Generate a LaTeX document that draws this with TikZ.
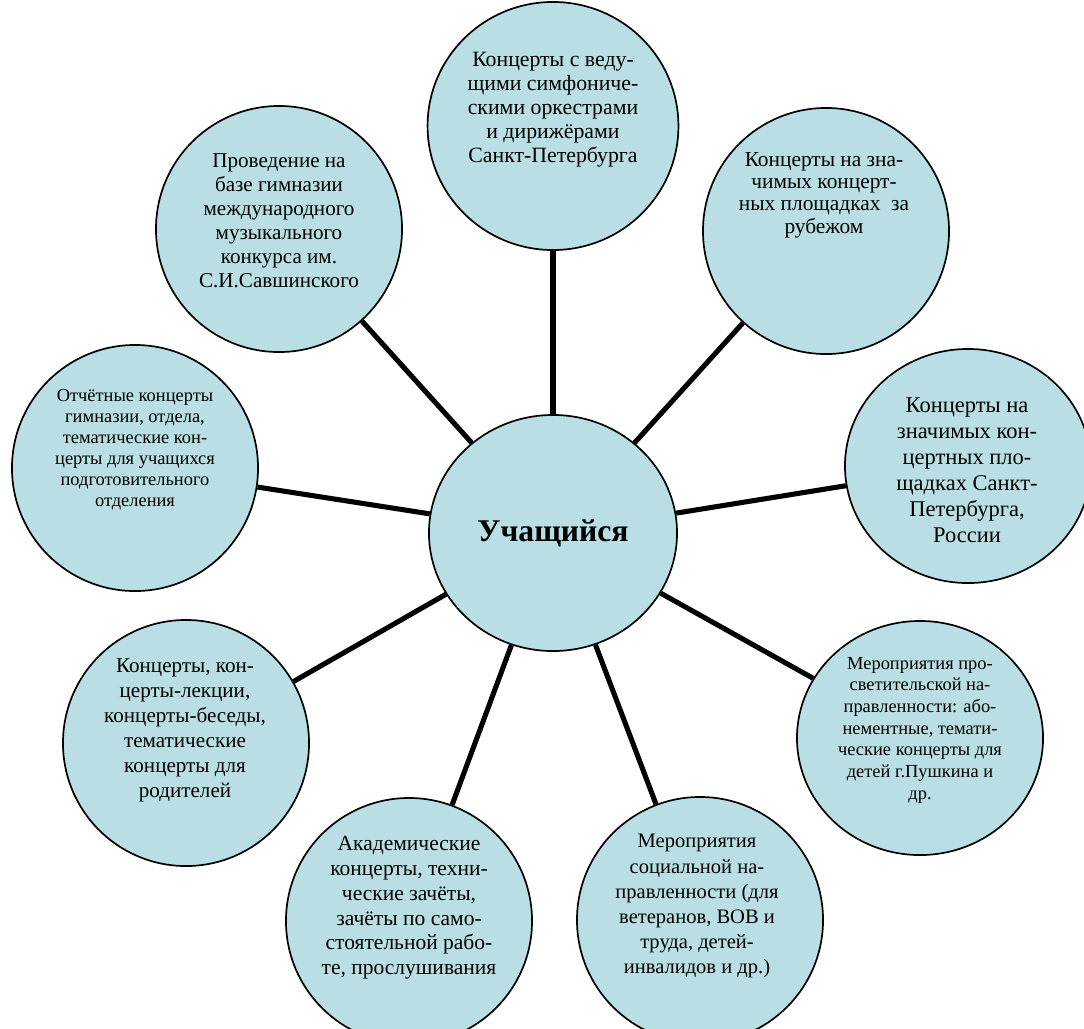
\documentclass[tikz,border=0pt]{standalone}
\usepackage{fontspec}
\setmainfont{Liberation Serif}
\usetikzlibrary{shapes.geometric}
\definecolor{mycyan}{RGB}{185,222,228}
\newcommand{\fsz}[2]{\fontsize{#1}{#2}\selectfont}

\begin{document}
\begin{tikzpicture}[x=0.025cm,y=-0.025cm,
  bubble/.style={ellipse,draw,fill=mycyan,line width=1.2pt,
    minimum width=6.15cm,minimum height=6.15cm,inner sep=0pt},
  flat/.style={minimum height=5.85cm},
  btext/.style={align=center,inner sep=0pt},
  spoke/.style={line width=3.6pt}]
\useasboundingbox (0,0) rectangle (1084,1028);

  % circles
  \node[bubble,minimum width=6.27cm,minimum height=6.2cm] (vedu) at (553,126) {};
  \node[bubble] (gymn)    at (279,229) {};
  \node[bubble] (abroad)  at (826,231) {};
  \node[bubble] (report)  at (135,468) {};
  \node[bubble,flat] (russia)  at (968,466) {};
  \node[bubble] (parents) at (186,743) {};
  \node[bubble,flat] (enlight) at (920,738) {};
  \node[bubble] (exams)   at (409,921) {};
  \node[bubble] (social)  at (700,920) {};
  \node[bubble,minimum width=6.2cm,minimum height=5.9cm,
    font=\fsz{22.5}{26}\bfseries] (stud) at (553,533) {Учащийся};

  % spokes
  \draw[spoke] (stud) edge (vedu) edge (gymn) edge (abroad)
    edge (report) edge (russia) edge (parents)
    edge (enlight) edge (exams) edge (social);

  % texts
  \node[btext,font=\fsz{15.5}{17.1}] (t-vedu) at (553,110)
    {Концерты с веду-\\щими симфониче-\\скими оркестрами\\и дирижёрами\\Санкт-Петербурга};
  \node[btext,font=\fsz{15}{17.1}] (t-gymn) at (279,221)
    {Проведение на\\базе гимназии\\международного\\музыкального\\конкурса им.\\С.И.Савшинского};
  \node[btext,font=\fsz{15.2}{15.9}] (t-abroad) at (824,195)
    {Концерты на зна-\\чимых концерт-\\ных площадках\ \ за\\рубежом};
  \node[btext,font=\fsz{13.1}{14.9}] (t-report) at (135,450)
    {Отчётные концерты\\гимназии, отдела,\\тематические кон-\\церты для учащихся\\подготовительного\\отделения};
  \node[btext,font=\fsz{16}{18.5}] (t-russia) at (967,470)
    {Концерты на\\значимых кон-\\цертных пло-\\щадках Санкт-\\Петербурга,\\России};
  \node[btext,font=\fsz{15}{17.8}] (t-parents) at (185,730)
    {Концерты, кон-\\церты-лекции,\\концерты-беседы,\\тематические\\концерты для\\родителей};
  \node[btext,font=\fsz{13.1}{15.4}] (t-enlight) at (920,730)
    {Мероприятия про-\\светительской на-\\правленности: або-\\нементные, темати-\\ческие концерты для\\детей г.Пушкина и\\др.};
  \node[btext,font=\fsz{15.3}{17.6}] (t-exams) at (409,908)
    {Академические\\концерты, техни-\\ческие зачёты,\\зачёты по само-\\стоятельной рабо-\\те, прослушивания};
  \node[btext,font=\fsz{14.6}{17.8}] (t-social) at (697,906)
    {Мероприятия\\социальной на-\\правленности (для\\ветеранов, ВОВ и\\труда, детей-\\инвалидов и др.)};
\end{tikzpicture}
\end{document}
